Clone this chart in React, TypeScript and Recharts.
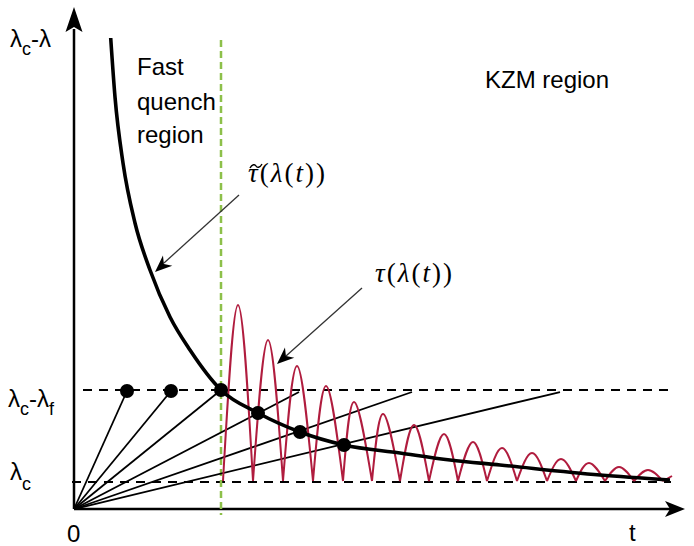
import { ComposedChart, Line, Scatter, XAxis, YAxis, ReferenceLine, ReferenceDot } from 'recharts'

// τ̃(λ(t)) : thick black curve
const tildeT = [3.67, 4.1, 4.9, 6.1, 7.6, 9.6, 11.6, 14.7, 18.4, 22.6, 27.0, 32.6, 37.6, 42.6, 52.6, 59.6]
const tildeV = [47.1, 41.2, 34.6, 28.6, 23.9, 19.2, 15.9, 11.9, 9.6, 7.7, 6.4, 5.6, 4.9, 4.4, 3.4, 2.9]

// τ(λ(t)) : red arches between zeros on the λc line
const zeroT = [14.9, 17.9, 20.9, 23.9, 26.9, 29.8, 32.6, 35.5, 38.4, 41.3, 44.3, 47.3, 50.2, 53.1, 56.0, 58.9]
const peakT = [16.4, 19.4, 22.3, 25.2, 28.0, 30.9, 34.0, 37.0, 39.9, 42.8, 45.8, 48.7, 51.5, 54.5, 57.4]
const peakV = [20.4, 16.9, 14.3, 12.3, 10.7, 9.5, 8.4, 7.5, 6.7, 6.1, 5.6, 5.0, 4.6, 4.2, 3.9]
const tailEnd = { t: 59.8, v: 3.3 }

const LC = 2.8 // λc level
const LCF = 11.9 // λc-λf level

// rays from the origin end on the λc-λf line
const rayEnd = [5.3, 9.7, 14.7, 22.5, 33.8, 48.6]
const rayV = [11.8, 11.8, 11.9, 11.7, 11.7, 11.7]

const dotT = [5.3, 9.7, 14.7, 18.4, 22.6, 27.0]
const dotV = [11.8, 11.8, 11.9, 9.6, 7.7, 6.4]

const tildeData = tildeT.map((t, i) => ({ t, v: tildeV[i] }))
const redData: { t: number; v: number | null }[] = []
peakT.forEach((p, i) => {
  if (i > 0) redData.push({ t: zeroT[i], v: null })
  redData.push({ t: zeroT[i], v: LC }, { t: p, v: peakV[i] }, { t: zeroT[i + 1], v: LC })
})
redData.push({ t: zeroT[zeroT.length - 1], v: null }, { t: zeroT[zeroT.length - 1], v: LC }, tailEnd)
const dotData = dotT.map((t, i) => ({ t, v: dotV[i] }))

const sans = '"Liberation Sans", Arial, sans-serif'
const serif = '"Liberation Serif", "Times New Roman", serif'

const Head = (angle: number, len: number, half: number, notch: number) => (p: any) => (
  <path
    d={`M0,0 L${-len},${-half} L${-len + notch},0 L${-len},${half} Z`}
    transform={`translate(${p.cx},${p.cy}) rotate(${angle})`}
    fill="#000"
  />
)

const Txt = (content: React.ReactNode, size = 24, family = sans, extra: any = {}) => (p: any) => (
  <text x={p.cx} y={p.cy} fontSize={size} fontFamily={family} fill="#000" {...extra}>
    {content}
  </text>
)

// small tilde accent drawn over τ
const TildeMark = (p: any) => (
  <path
    d="M-6,2 C-4,-2 -1,-2 0,0 C1,2 4,2 6,-2"
    transform={`translate(${p.cx},${p.cy})`}
    fill="none"
    stroke="#000"
    strokeWidth={1.4}
  />
)

const mathLabel = (
  <>
    <tspan fontStyle="italic">τ</tspan>(<tspan fontStyle="italic">λ</tspan>(<tspan fontStyle="italic">t</tspan>))
  </>
)

export default function App() {
  return (
    <div style={{ position: 'absolute', left: 0, top: 0, background: '#fff' }}>
      <ComposedChart width={694} height={546} margin={{ top: 0, right: 0, bottom: 0, left: 0 }}>
        <XAxis type="number" dataKey="t" domain={[-7.4, 62]} allowDataOverflow hide />
        <YAxis type="number" dataKey="v" domain={[-3.7, 50.9]} allowDataOverflow hide />

        {/* axes */}
        <ReferenceLine segment={[{ x: 0, y: 0 }, { x: 0, y: 48 }]} stroke="#000" strokeWidth={2.5} ifOverflow="visible" />
        <ReferenceLine segment={[{ x: 0, y: 0 }, { x: 60, y: 0 }]} stroke="#000" strokeWidth={2.5} ifOverflow="visible" />
        <ReferenceDot x={0} y={50.2} r={0} ifOverflow="visible" shape={Head(-90, 25, 8.5, 5)} />
        <ReferenceDot x={61.1} y={0} r={0} ifOverflow="visible" shape={Head(0, 20, 8, 5)} />

        {/* levels */}
        <ReferenceLine segment={[{ x: 0.9, y: LCF }, { x: 59.9, y: LCF }]} stroke="#000" strokeWidth={1.8} strokeDasharray="9 7" ifOverflow="visible" />
        <ReferenceLine segment={[{ x: -0.2, y: 2.7 }, { x: 59.7, y: 2.7 }]} stroke="#000" strokeWidth={1.8} strokeDasharray="9 7" ifOverflow="visible" />
        <ReferenceLine segment={[{ x: 14.7, y: 46.9 }, { x: 14.7, y: -0.6 }]} stroke="#8dc04a" strokeWidth={2.5} strokeDasharray="7 4" ifOverflow="visible" />

        {rayEnd.map((t, i) => (
          <ReferenceLine key={i} segment={[{ x: 0, y: 0 }, { x: t, y: rayV[i] }]} stroke="#000" strokeWidth={1.8} ifOverflow="visible" />
        ))}

        <Line data={redData} dataKey="v" type="natural" stroke="#b01c3e" strokeWidth={2} dot={false} activeDot={false} connectNulls={false} isAnimationActive={false} />
        <Line data={tildeData} dataKey="v" type="monotone" stroke="#000" strokeWidth={3.6} strokeLinejoin="round" dot={false} activeDot={false} isAnimationActive={false} />
        <Scatter data={dotData} fill="#000" isAnimationActive={false} shape={(p: any) => <circle cx={p.cx} cy={p.cy} r={7} fill="#000" />} />

        {/* annotation arrows */}
        <ReferenceLine segment={[{ x: 16.5, y: 31.4 }, { x: 9.0, y: 24.6 }]} stroke="#333" strokeWidth={1.3} ifOverflow="visible" />
        <ReferenceDot x={8.1} y={23.7} r={0} ifOverflow="visible" shape={Head(138, 17, 7, 5)} />
        <ReferenceLine segment={[{ x: 28.8, y: 22.1 }, { x: 21.2, y: 15.3 }]} stroke="#333" strokeWidth={1.3} ifOverflow="visible" />
        <ReferenceDot x={20.3} y={14.5} r={0} ifOverflow="visible" shape={Head(138, 17, 7, 5)} />

        {/* labels */}
        <ReferenceDot x={-6.4} y={46.2} r={0} ifOverflow="visible"
          shape={Txt(<>λ<tspan dy={8} fontSize={18}>c</tspan><tspan dy={-8}>-λ</tspan></>)} />
        <ReferenceDot x={-6.6} y={10.2} r={0} ifOverflow="visible"
          shape={Txt(<>λ<tspan dy={8} fontSize={18}>c</tspan><tspan dy={-8}>-λ</tspan><tspan dy={8} fontSize={18}>f</tspan></>)} />
        <ReferenceDot x={-6.4} y={2.9} r={0} ifOverflow="visible"
          shape={Txt(<>λ<tspan dy={10} fontSize={18}>c</tspan></>)} />
        <ReferenceDot x={-0.7} y={-3.3} r={0} ifOverflow="visible" shape={Txt('0')} />
        <ReferenceDot x={55.5} y={-3.2} r={0} ifOverflow="visible" shape={Txt('t')} />
        <ReferenceDot x={6.3} y={43.4} r={0} ifOverflow="visible" shape={Txt('Fast')} />
        <ReferenceDot x={6.3} y={39.9} r={0} ifOverflow="visible" shape={Txt('quench')} />
        <ReferenceDot x={6.3} y={36.6} r={0} ifOverflow="visible" shape={Txt('region')} />
        <ReferenceDot x={41.1} y={42.1} r={0} ifOverflow="visible" shape={Txt('KZM region')} />
        <ReferenceDot x={17.4} y={32.7} r={0} ifOverflow="visible" shape={Txt(mathLabel, 27, serif, { letterSpacing: 2 })} />
        <ReferenceDot x={18.2} y={34.3} r={0} ifOverflow="visible" shape={TildeMark} />
        <ReferenceDot x={30.1} y={22.7} r={0} ifOverflow="visible" shape={Txt(mathLabel, 27, serif, { letterSpacing: 2 })} />
      </ComposedChart>
    </div>
  )
}
